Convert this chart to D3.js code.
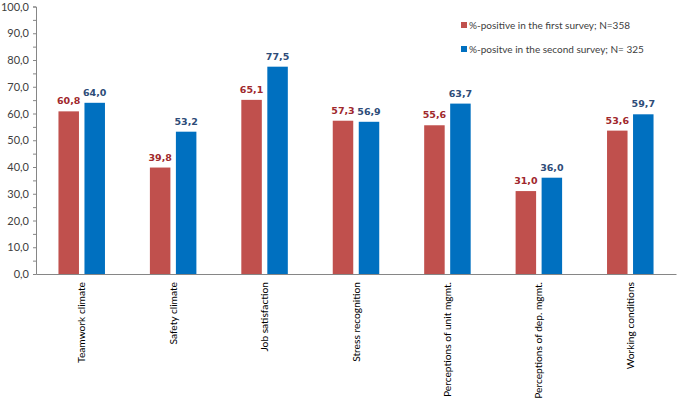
<!DOCTYPE html>
<html><head><meta charset="utf-8">
<script src="https://cdn.jsdelivr.net/npm/d3@7"></script>
<style>body{margin:0;background:#fff}</style>
</head><body>
<svg id="c" width="677" height="402"></svg>
<script>
const categories = ["Teamwork climate","Safety climate","Job satisfaction","Stress recognition","Perceptions of unit mgmt.","Perceptions of dep. mgmt.","Working conditions"];
const firstSurvey = [60.8, 39.8, 65.1, 57.3, 55.6, 31.0, 53.6];
const secondSurvey = [64.0, 53.2, 77.5, 56.9, 63.7, 36.0, 59.7];
const seriesNames = ["%-positive in the first survey; N=358", "%-positve in the second survey; N= 325"];
const yTicks = [0,10,20,30,40,50,60,70,80,90,100];

(function(){
const svg = d3.select("#c");
const mLeft = 36, mRight = 676, mTop = 6.5, mBottom = 274;
const fmt = v => v.toFixed(1).replace(".", ",");
const x = d3.scaleBand().domain(categories).range([mLeft, mRight]);
const y = d3.scaleLinear().domain([0, 100]).range([mBottom, mTop]);
const colors = ["#C0504D", "#0070C0"];
const labelColors = ["#A0282C", "#2E4C78"];
const bw = 20.5, gap = 5.5;
const font = "Lato, 'Open Sans', sans-serif";

// y axis
const minor = d3.range(0, 101, 5);
const yAxis = d3.axisLeft(y).tickValues(minor).tickSize(3).tickFormat(d => yTicks.includes(d) ? fmt(d) : "");
const ga = svg.append("g").attr("transform", `translate(${mLeft},0)`).call(yAxis);
ga.select(".domain").attr("stroke", "#868686");
ga.selectAll(".tick line").attr("stroke", "#868686");
ga.selectAll(".tick text").attr("font-family", font).attr("font-size", 11).attr("fill", "#404040").attr("x", -7);

// bars
const series = [firstSurvey, secondSurvey];
series.forEach((vals, s) => {
  const off = s === 0 ? -gap/2 - bw : gap/2;
  svg.append("g").selectAll("rect").data(vals).join("rect")
    .attr("x", (d, i) => x(categories[i]) + x.bandwidth()/2 + off)
    .attr("width", bw)
    .attr("y", d => y(d))
    .attr("height", d => mBottom - y(d))
    .attr("fill", colors[s]);
  svg.append("g").selectAll("text").data(vals).join("text")
    .attr("x", (d, i) => x(categories[i]) + x.bandwidth()/2 + off + bw/2)
    .attr("y", d => y(d) - 7)
    .attr("text-anchor", "middle")
    .attr("font-family", "Verdana, 'DejaVu Sans', sans-serif")
    .attr("font-weight", "bold")
    .attr("font-size", 9.5)
    .attr("fill", labelColors[s])
    .text(d => fmt(d));
});

// x axis
const xAxis = d3.axisBottom(x).tickSize(0).tickFormat(d => d);
const gx = svg.append("g").attr("transform", `translate(0,${mBottom})`).call(xAxis);
gx.select(".domain").attr("stroke", "#868686");
gx.selectAll(".tick text")
  .attr("font-family", font).attr("font-size", 10.2).attr("fill", "#000")
  .attr("transform", "rotate(-90)")
  .attr("text-anchor", "end")
  .attr("x", -8).attr("y", 0).attr("dy", "0.35em");

// legend
const lg = svg.append("g");
seriesNames.forEach((n, i) => {
  const ly = 25 + i * 24;
  lg.append("rect").attr("x", 461).attr("y", ly - 3).attr("width", 6).attr("height", 6).attr("fill", colors[i]);
  lg.append("text").attr("x", 469).attr("y", ly).attr("dy", "0.35em")
    .attr("font-family", font).attr("font-size", 10).attr("fill", "#404040").text(n);
});
})();
</script>
</body></html>
